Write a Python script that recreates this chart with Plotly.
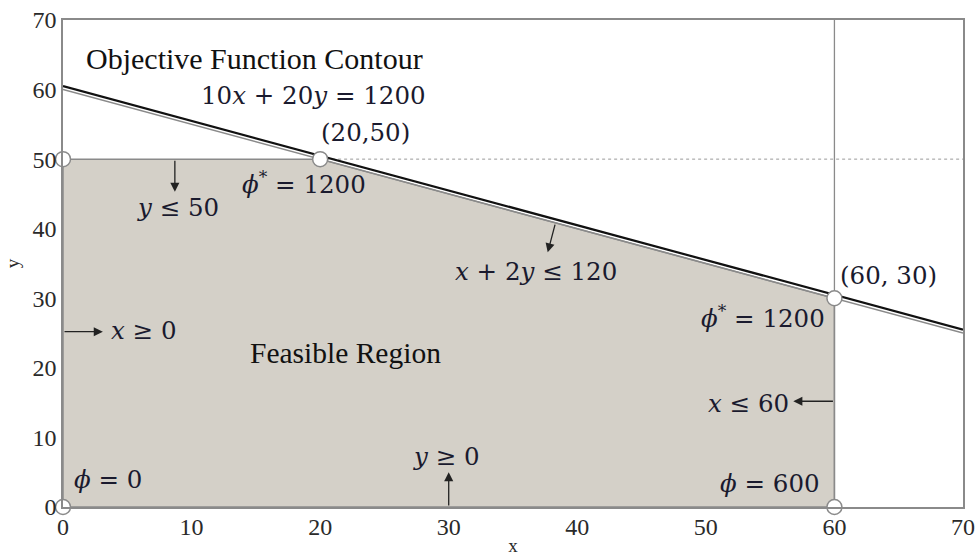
import plotly.graph_objects as go

# ---- data ----
vertex_x = [0, 0, 20, 60, 60]
vertex_y = [0, 50, 50, 30, 0]
constraint_x = [0, 70]
constraint_y = [60, 25]          # x + 2y = 120
objective_x = [0, 70]
objective_y = [60, 25]           # 10x + 20y = 1200
y_limit_x = [20, 70]
y_limit_y = [50, 50]             # y = 50
x_limit_x = [60, 60]
x_limit_y = [0, 70]              # x = 60
tick_vals = [0, 10, 20, 30, 40, 50, 60, 70]

OBJ_OFFSET = 0.5  # visual offset of the objective contour above the constraint line

SERIF = "Liberation Serif"
MATH = "DejaVu Serif"
DARK = "#1a1a2e"
MS = 24.5

fig = go.Figure()

# feasible region
fig.add_trace(go.Scatter(
    x=vertex_x + [vertex_x[0]], y=vertex_y + [vertex_y[0]],
    fill="toself", fillcolor="#d4d0c8", mode="lines",
    line=dict(color="#8a8a8a", width=1.5), hoverinfo="skip", showlegend=False))

# y = 50 dotted continuation
fig.add_trace(go.Scatter(x=y_limit_x, y=y_limit_y, mode="lines",
                         line=dict(color="#9a9a9a", width=1, dash="dot"),
                         showlegend=False, hoverinfo="skip"))
# x = 60 vertical
fig.add_trace(go.Scatter(x=x_limit_x, y=x_limit_y, mode="lines",
                         line=dict(color="#8a8a8a", width=1.3),
                         showlegend=False, hoverinfo="skip"))
# constraint line (grey)
fig.add_trace(go.Scatter(x=constraint_x, y=constraint_y, mode="lines",
                         line=dict(color="#8a8a8a", width=1.5),
                         showlegend=False, hoverinfo="skip"))
# objective contour (black, slightly offset)
fig.add_trace(go.Scatter(x=objective_x, y=[v + OBJ_OFFSET for v in objective_y], mode="lines",
                         line=dict(color="#111111", width=2.2),
                         showlegend=False, hoverinfo="skip"))
# vertices
fig.add_trace(go.Scatter(x=vertex_x, y=vertex_y, mode="markers",
                         marker=dict(size=15, color="white", line=dict(color="#8a8a8a", width=1.5)),
                         cliponaxis=False, showlegend=False, hoverinfo="skip"))

def txt(x, y, text, size=MS, font=MATH, xanchor="left", yanchor="middle", color=DARK):
    fig.add_annotation(x=x, y=y, text=text, showarrow=False, xanchor=xanchor, yanchor=yanchor,
                       font=dict(family=font, size=size, color=color))

def arrow(x0, y0, x1, y1):
    fig.add_annotation(x=x1, y=y1, ax=x0, ay=y0, axref="x", ayref="y", xref="x", yref="y",
                       text="", showarrow=True, arrowhead=2, arrowsize=1.4, arrowwidth=1.3,
                       arrowcolor="#222222", standoff=0, startstandoff=0)

txt(1.6, 64.5, "Objective Function Contour", size=30, font=SERIF, color="#111111")
txt(10.6, 59.2, "10<i>x</i> + 20<i>y</i> = 1200")
txt(19.9, 53.8, "(20,50)")
txt(13.8, 46.6, "<i>ϕ</i><sup>*</sup> = 1200")
txt(5.6, 43.0, "<i>y</i> ≤ 50")
txt(30.3, 33.8, "<i>x</i> + 2<i>y</i> ≤ 120")
txt(60.3, 33.3, "(60, 30)")
txt(59.4, 27.3, "<i>ϕ</i><sup>*</sup> = 1200", xanchor="right")
txt(3.6, 25.4, "<i>x</i> ≥ 0")
txt(14.4, 22.1, "Feasible Region", size=29.5, font=SERIF, color="#111111")
txt(50.0, 14.9, "<i>x</i> ≤ 60")
txt(0.7, 3.9, "<i>ϕ</i> = 0")
txt(27.1, 7.2, "<i>y</i> ≥ 0")
txt(59.0, 3.45, "<i>ϕ</i> = 600", xanchor="right")

arrow(8.7, 50, 8.7, 45.3)
arrow(38.3, 40.8, 37.7, 36.6)
arrow(0, 25.2, 3.1, 25.2)
arrow(60, 15.2, 56.8, 15.2)
arrow(30, 0, 30, 5.0)

axis_common = dict(range=[0, 70], tickvals=tick_vals, showgrid=False, zeroline=False,
                   showline=True, linecolor="#8a8a8a", linewidth=1.5, mirror=True, ticks="",
                   automargin=False,
                   tickfont=dict(family=SERIF, size=24, color="#2a2a2a"))

fig.update_xaxes(**axis_common, ticklabelstandoff=-3,
                 title=dict(text="x", font=dict(family=SERIF, size=19, color="#2a2a2a"), standoff=2))
fig.update_yaxes(**axis_common,
                 title=dict(text="y", font=dict(family=SERIF, size=19, color="#2a2a2a"), standoff=8))

fig.update_layout(width=979, height=556, margin=dict(l=63, r=16, t=20, b=49),
                  paper_bgcolor="white", plot_bgcolor="white")

fig.write_html("out.html")
